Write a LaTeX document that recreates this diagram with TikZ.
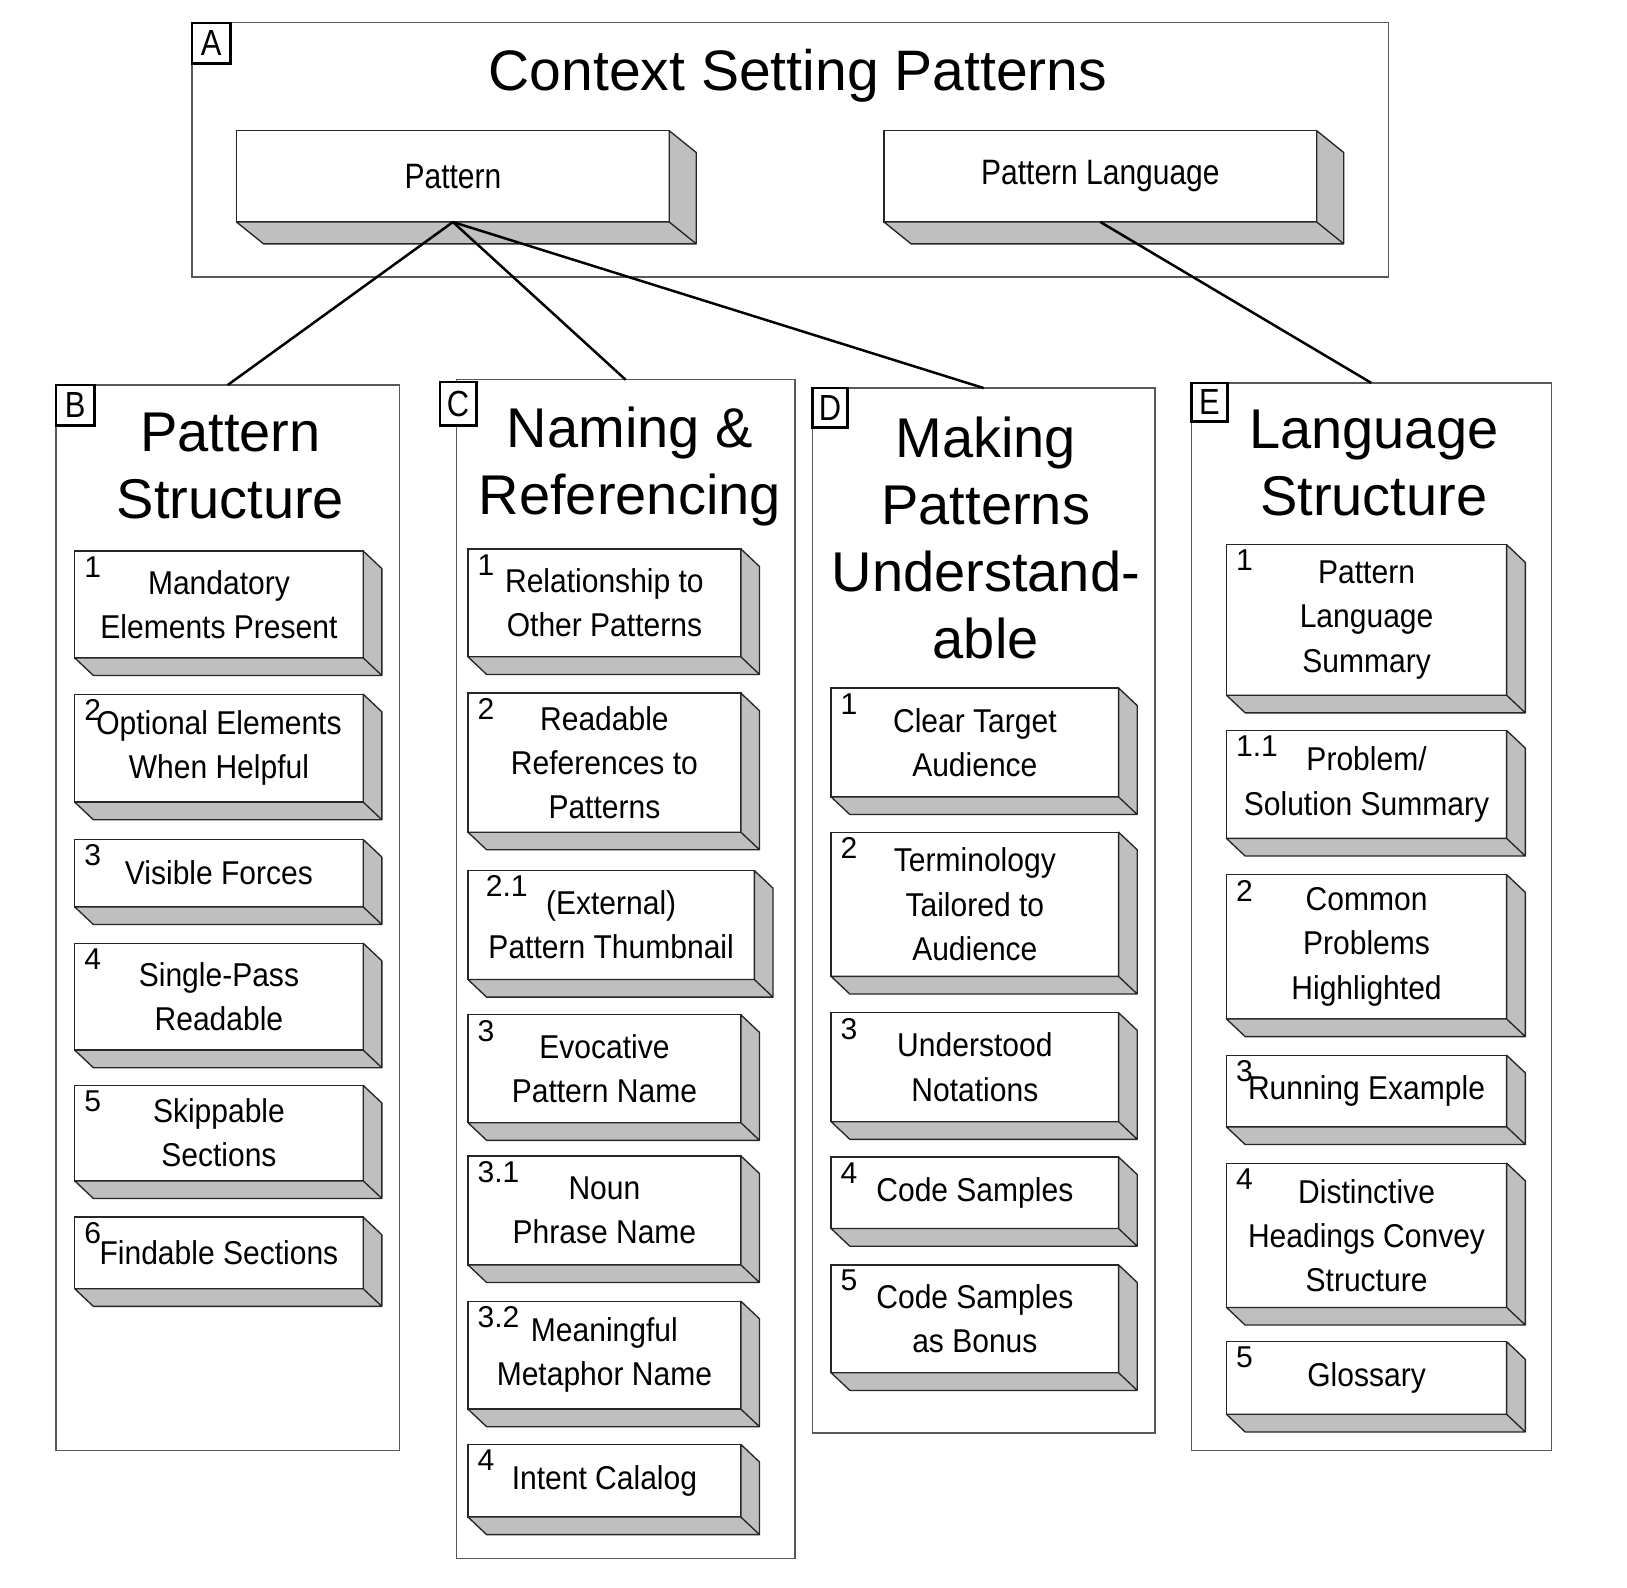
\documentclass[tikz,border=0pt]{standalone}
\usepackage{fontspec}
\setmainfont{Liberation Sans}
\newfontfamily\itemfont[FakeStretch=0.91]{Liberation Sans}
\newfontfamily\boxfont[FakeStretch=0.85]{Liberation Sans}

\tikzset{
  panel/.style={draw=black!65, line width=1.3pt, anchor=north west, inner sep=0, outer sep=0},
  tag/.style={draw, line width=2.5pt, fill=white, anchor=north west, inner sep=0, outer sep=0,
    minimum width=37pt, minimum height=39pt, font=\boxfont\fontsize{35}{35}\selectfont},
  heading/.style={anchor=north, inner sep=0, align=center, font=\fontsize{54}{64.5}\selectfont},
  slab/.style={draw=black!85, line width=1.3pt, fill=white, anchor=north west, inner sep=0,
    outer sep=0, align=center, font=\itemfont\fontsize{31.8}{42.5}\selectfont},
  topslab/.style={slab, minimum width=417pt, minimum height=88pt, font=\boxfont\fontsize{34}{40}\selectfont},
  bitem/.style={slab, minimum width=278pt},
  citem/.style={slab, minimum width=263pt},
  ditem/.style={slab, minimum width=277pt},
  eitem/.style={slab, minimum width=270pt},
  num/.style={anchor=north west, inner sep=0, xshift=9pt, yshift=-5pt, font=\fontsize{29}{29}\selectfont},
  depth/.style={fill=black!25, draw=black!85, line width=1.3pt, line join=round},
  link/.style={line width=2.4pt}
}

\begin{document}
\begin{tikzpicture}[x=1pt,y=-1pt]
\useasboundingbox (0,0) rectangle (1568,1530);

% context panel
\node[panel, minimum width=1153pt, minimum height=245pt] (ctx) at (185,22) {};
\node[tag] (tagA) at (185,22) {A};
\node[anchor=north, inner sep=0, font=\fontsize{55}{55}\selectfont] (title) at (769,47) {Context Setting Patterns};
\node[topslab] (pat) at (228,126) {Pattern};
\node[topslab] (lang) at (852,126) {Pattern Language};

% column panels
\node[panel, minimum width=331pt, minimum height=1027pt] (colB) at (54,371) {};
\node[panel, minimum width=326pt, minimum height=1136pt] (colC) at (440,366) {};
\node[panel, minimum width=330pt, minimum height=1007pt] (colD) at (783,374) {};
\node[panel, minimum width=347pt, minimum height=1029pt] (colE) at (1148,369) {};

\node[tag] (tagB) at (54,371) {B};
\node[tag, minimum width=35pt, minimum height=42pt] (tagC) at (424,368) {C};
\node[tag, minimum width=34pt, minimum height=38pt] (tagD) at (783,374) {D};
\node[tag, minimum width=35pt, minimum height=37pt] (tagE) at (1148,369) {E};

\node[heading] (hB) at (222,398) {Pattern\\Structure};
\node[heading] (hC) at (607,392) {Naming \&\\Referencing};
\node[heading] (hD) at (950,402) {Making\\Patterns\\Understand-\\able};
\node[heading] (hE) at (1324,395) {Language\\Structure};

% pattern structure
\node[bitem, minimum height=103pt, label={[num]north west:1}] (b1) at (72,531) {Mandatory\\Elements Present};
\node[bitem, minimum height=104pt, label={[num]north west:2}] (b2) at (72,669) {Optional Elements\\When Helpful};
\node[bitem, minimum height=65pt, label={[num]north west:3}] (b3) at (72,809) {Visible Forces};
\node[bitem, minimum height=103pt, label={[num]north west:4}] (b4) at (72,909) {Single-Pass\\Readable};
\node[bitem, minimum height=92pt, label={[num]north west:5}] (b5) at (72,1046) {Skippable\\Sections};
\node[bitem, minimum height=69pt, label={[num]north west:6}] (b6) at (72,1173) {Findable Sections};

% naming and referencing
\node[citem, minimum height=104pt, label={[num]north west:1}] (c1) at (451,529) {Relationship to\\Other Patterns};
\node[citem, minimum height=134pt, label={[num]north west:2}] (c2) at (451,668) {Readable\\References to\\Patterns};
\node[citem, minimum width=276pt, minimum height=105pt, label={[num, xshift=8pt]north west:2.1}] (c21) at (451,839) {(External)\\Pattern Thumbnail};
\node[citem, minimum height=104pt, label={[num]north west:3}] (c3) at (451,978) {Evocative\\Pattern Name};
\node[citem, minimum height=105pt, label={[num]north west:3.1}] (c31) at (451,1114) {Noun\\Phrase Name};
\node[citem, minimum height=104pt, label={[num]north west:3.2}] (c32) at (451,1254) {Meaningful\\Metaphor Name};
\node[citem, minimum height=70pt, label={[num]north west:4}] (c4) at (451,1392) {Intent Calalog};

% making patterns understandable
\node[ditem, minimum height=105pt, label={[num]north west:1}] (d1) at (801,663) {Clear Target\\Audience};
\node[ditem, minimum height=139pt, label={[num]north west:2}] (d2) at (801,802) {Terminology\\Tailored to\\Audience};
\node[ditem, minimum height=105pt, label={[num]north west:3}] (d3) at (801,976) {Understood\\Notations};
\node[ditem, minimum height=69pt, label={[num]north west:4}] (d4) at (801,1115) {Code Samples};
\node[ditem, minimum height=104pt, label={[num]north west:5}] (d5) at (801,1219) {Code Samples\\as Bonus};

% language structure
\node[eitem, minimum height=145pt, label={[num]north west:1}] (e1) at (1182,525) {Pattern\\Language\\Summary};
\node[eitem, minimum height=104pt, label={[num]north west:1.1}] (e11) at (1182,704) {Problem/\\Solution Summary};
\node[eitem, minimum height=139pt, label={[num]north west:2}] (e2) at (1182,843) {Common\\Problems\\Highlighted};
\node[eitem, minimum height=69pt, label={[num]north west:3}] (e3) at (1182,1017) {Running Example};
\node[eitem, minimum height=139pt, label={[num]north west:4}] (e4) at (1182,1121) {Distinctive\\Headings Convey\\Structure};
\node[eitem, minimum height=70pt, label={[num]north west:5}] (e5) at (1182,1293) {Glossary};

% slab depth
\foreach \n in {b1,b2,b3,b4,b5,b6,c1,c2,c21,c3,c31,c32,c4,d1,d2,d3,d4,d5,e1,e11,e2,e3,e4,e5}
  \filldraw[depth] (\n.north east) -- ++(18,17) -- ([shift={(18,17)}]\n.south east)
    -- ([shift={(18,17)}]\n.south west) -- (\n.south west) -- (\n.south east) -- cycle
    (\n.south east) -- ++(18,17);
\foreach \n in {pat,lang}
  \filldraw[depth] (\n.north east) -- ++(26,21) -- ([shift={(26,21)}]\n.south east)
    -- ([shift={(26,21)}]\n.south west) -- (\n.south west) -- (\n.south east) -- cycle
    (\n.south east) -- ++(26,21);

% links
\draw[link] (pat.south) -- (colB.north);
\draw[link] (pat.south) -- (colC.north);
\draw[link] (pat.south) -- (colD.north);
\draw[link] (lang.south) -- (colE.north);
\end{tikzpicture}
\end{document}
